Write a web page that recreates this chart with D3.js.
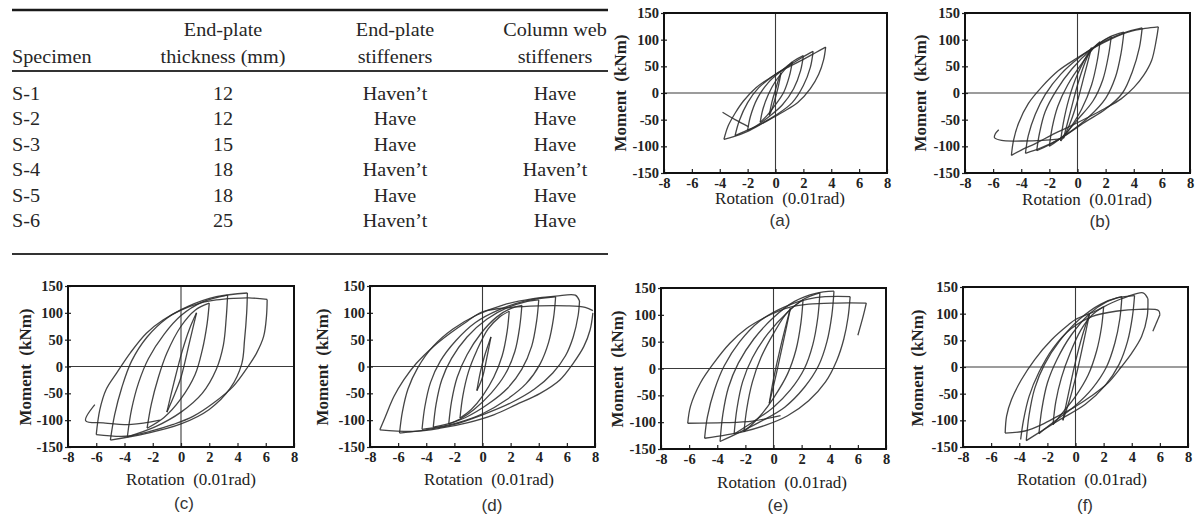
<!DOCTYPE html>
<html><head><meta charset="utf-8">
<script src="https://cdn.jsdelivr.net/npm/d3@7"></script>
<style>body{margin:0;background:#fff;} svg{display:block;}</style>
</head><body><svg id="c" width="1195" height="516"></svg>
<script>
// ---------------- table data ----------------
const headerLine1 = ["", "End-plate", "End-plate", "Column web"];
const headerLine2 = ["Specimen", "thickness (mm)", "stiffeners", "stiffeners"];
const specimens = ["S-1", "S-2", "S-3", "S-4", "S-5", "S-6"];
const endPlateThickness = ["12", "12", "15", "18", "18", "25"];
const endPlateStiffeners = ["Haven\u2019t", "Have", "Have", "Haven\u2019t", "Have", "Haven\u2019t"];
const columnWebStiffeners = ["Have", "Have", "Have", "Haven\u2019t", "Have", "Have"];

// ---------------- chart data ----------------
const xTicks = [-8, -6, -4, -2, 0, 2, 4, 6, 8];
const xTickLabels = ["-8", "-6", "-4", "-2", "0", "2", "4", "6", "8"];
const yTicks = [-150, -100, -50, 0, 50, 100, 150];
const yTickLabels = ["-150", "-100", "-50", "0", "50", "100", "150"];
const xTitle = "Rotation  (0.01rad)";
const yTitle = "Moment  (kNm)";
const captions = ["(a)", "(b)", "(c)", "(d)", "(e)", "(f)"];

// hysteresis loops, [rotation (0.01rad), moment (kNm)]
const loopsS1 = [
 [[0.4,38],[0.2,12],[0,-8],[-0.25,-30],[-0.45,-42],[-0.25,-16],[0,6],[0.2,24],[0.4,38]],
 [[1.2,58],[1.0,32],[0.6,2],[0,-22],[-0.6,-42],[-1.1,-55],[-0.9,-30],[-0.5,-2],[0,22],[0.6,42],[1.2,58]],
 [[2.0,70],[1.8,42],[1.3,8],[0.5,-22],[-0.5,-45],[-1.4,-62],[-2.0,-70],[-1.8,-44],[-1.3,-10],[-0.5,20],[0.5,43],[1.3,60],[2.0,70]],
 [[2.7,78],[2.5,48],[2.0,14],[1.2,-18],[0,-42],[-1.2,-60],[-2.2,-72],[-2.9,-80],[-2.6,-52],[-2.0,-18],[-1.2,10],[0,35],[1.2,55],[2.0,68],[2.7,78]],
 [[3.6,86],[3.45,62],[3.1,35],[2.5,8],[1.6,-18],[0.5,-36],[-0.8,-55],[-2.0,-72],[-3.0,-82],[-3.7,-87],[-3.4,-62],[-2.9,-38],[-2.3,-15],[-1.4,10],[-0.3,30],[0.8,47],[2.0,63],[2.9,76],[3.6,86]]
];
const tailS1 = [[-1.95,-63],[-2.9,-50],[-3.8,-36]];

const loopsS2 = [
 [[1.0,85],[0.5,35],[0,-15],[-0.5,-55],[-1.0,-85],[-0.5,-35],[0,15],[0.5,55],[1.0,85]],
 [[1.6,96],[1.4,60],[1.0,15],[0.3,-30],[-0.5,-65],[-1.2,-90],[-1.0,-55],[-0.6,-10],[0,35],[0.8,75],[1.6,96]],
 [[2.4,106],[2.2,70],[1.8,25],[1.1,-15],[0,-50],[-1.0,-80],[-2.0,-100],[-1.8,-65],[-1.4,-25],[-0.7,15],[0.3,55],[1.3,88],[2.4,106]],
 [[3.3,114],[3.1,75],[2.7,30],[2.0,-10],[0.8,-45],[-0.8,-78],[-2.0,-97],[-2.9,-108],[-2.7,-75],[-2.3,-35],[-1.5,5],[-0.4,45],[1.0,82],[2.2,104],[3.3,114]],
 [[4.6,122],[4.4,85],[3.9,40],[3.2,0],[2.0,-30],[0.5,-55],[-1.2,-85],[-2.6,-103],[-3.7,-113],[-3.5,-80],[-3.0,-40],[-2.3,-3],[-1.2,35],[0.2,68],[1.7,94],[3.2,112],[4.6,122]],
 [[5.75,124],[5.6,99],[5.27,61],[4.7,33],[4.0,10],[3.1,-11],[1.95,-29],[0.8,-45],[-0.65,-64],[-1.85,-79],[-3.0,-95],[-4.0,-107],[-4.7,-117],[-4.55,-89],[-4.2,-57],[-3.5,-20],[-2.55,11],[-1.35,42],[0,66],[1.25,86],[2.45,102],[3.6,114],[4.8,121],[5.75,124]]
];
const tailS2 = [[-1.2,-86],[-2.5,-89],[-4.0,-90],[-5.4,-89],[-5.9,-84],[-5.85,-77],[-5.6,-69]];

const loopsS3 = [
 [[1.1,100],[0.6,45],[0,-20],[-0.5,-55],[-1.0,-85],[-0.5,-30],[0.1,30],[0.6,70],[1.1,100]],
 [[2.0,118],[1.85,80],[1.5,30],[1.0,-15],[0,-60],[-1.2,-95],[-2.4,-115],[-2.1,-70],[-1.6,-20],[-1.0,25],[0,75],[1.0,105],[2.0,118]],
 [[3.3,133],[3.2,90],[3.0,40],[2.5,-5],[1.5,-50],[0,-85],[-1.8,-112],[-3.8,-131],[-3.5,-80],[-3.0,-30],[-2.3,15],[-1.2,60],[0,95],[1.5,120],[3.3,133]],
 [[4.7,137],[4.65,100],[4.5,50],[4.3,5],[3.5,-40],[2.0,-80],[0,-107],[-2.5,-125],[-5.0,-137],[-4.7,-90],[-4.2,-40],[-3.5,10],[-2.4,55],[-1.0,90],[0.5,112],[2.5,130],[4.7,137]],
 [[6.1,125],[6.05,93],[5.85,56],[5.35,25],[4.75,0],[3.7,-37],[2.3,-68],[0.85,-93],[-0.55,-108],[-2.2,-121],[-3.9,-130],[-6.0,-127],[-5.75,-81],[-5.3,-43],[-4.55,-12],[-3.6,25],[-2.45,62],[-1.25,87],[0,105],[1.35,118],[2.5,124],[3.7,127],[4.8,128],[6.1,125]]
];
const tailS3 = [[-1.5,-100],[-3.5,-108],[-5.5,-105],[-6.75,-101],[-6.1,-71]];

const loopsS4 = [
 [[0.6,55],[0.3,15],[0,-20],[-0.4,-45],[-0.15,-10],[0.15,20],[0.6,55]],
 [[1.9,103],[1.75,65],[1.4,20],[0.8,-20],[0,-55],[-0.8,-80],[-1.6,-96],[-1.4,-55],[-1.0,-10],[-0.4,30],[0.4,70],[1.2,92],[1.9,103]],
 [[2.8,114],[2.65,75],[2.3,28],[1.6,-15],[0.6,-50],[-0.6,-80],[-1.6,-98],[-2.4,-107],[-2.2,-65],[-1.8,-20],[-1.1,22],[-0.1,62],[1.0,92],[2.0,108],[2.8,114]],
 [[4.0,124],[3.85,85],[3.5,38],[2.8,-5],[1.8,-40],[0.4,-70],[-1.2,-95],[-2.6,-108],[-3.5,-113],[-3.3,-70],[-2.9,-25],[-2.2,15],[-1.1,55],[0.3,88],[1.8,110],[3.0,120],[4.0,124]],
 [[5.2,130],[5.05,90],[4.7,45],[4.1,5],[3.1,-32],[1.7,-62],[0,-88],[-1.8,-105],[-3.2,-113],[-4.3,-117],[-4.1,-75],[-3.7,-30],[-3.0,10],[-1.9,48],[-0.5,82],[1.2,106],[3.0,122],[5.2,130]],
 [[6.9,122],[6.8,95],[6.45,55],[5.9,20],[5.0,-12],[3.7,-42],[2.0,-68],[0,-90],[-2.0,-108],[-4.0,-118],[-5.9,-124],[-5.7,-85],[-5.3,-42],[-4.6,-2],[-3.5,38],[-2.1,70],[-0.4,96],[1.5,115],[3.5,126],[5.2,131],[6.6,133],[6.9,122]],
 [[7.85,100],[7.65,68],[7.2,37],[6.45,6],[5.5,-25],[4.1,-50],[2.4,-71],[0.8,-90],[-1.1,-105],[-3.0,-115],[-4.9,-121],[-7.3,-118],[-6.9,-93],[-6.3,-56],[-5.6,-25],[-4.7,6],[-3.5,37],[-2.3,62],[-1.1,84],[0,102],[2.0,110],[4.0,113],[6.0,113],[7.3,110],[7.85,104]]
];
const tailS4 = [];

const loopsS5 = [
 [[1.2,112],[0.7,50],[0.2,-10],[-0.3,-65],[0,-20],[0.5,40],[1.2,112]],
 [[2.1,128],[1.95,85],[1.6,35],[1.0,-10],[0,-55],[-1.0,-90],[-2.1,-118],[-1.9,-75],[-1.5,-25],[-0.9,20],[0,65],[1.0,105],[2.1,128]],
 [[3.3,141],[3.15,95],[2.8,45],[2.2,0],[1.2,-40],[0,-72],[-1.5,-100],[-2.8,-122],[-2.6,-75],[-2.2,-25],[-1.5,20],[-0.4,65],[1.0,105],[2.2,130],[3.3,141]],
 [[4.3,144],[4.15,100],[3.8,50],[3.2,5],[2.2,-35],[0.8,-72],[-1.0,-100],[-2.5,-120],[-3.8,-136],[-3.6,-85],[-3.2,-35],[-2.5,10],[-1.4,55],[0,95],[1.5,125],[3.0,140],[4.3,144]],
 [[5.45,134],[5.3,95],[5.0,55],[4.5,15],[3.7,-25],[2.5,-60],[1.0,-88],[-0.6,-106],[-2.2,-118],[-4.9,-130],[-4.7,-90],[-4.2,-40],[-3.5,5],[-2.4,50],[-1.0,88],[0.8,115],[3.0,132],[5.45,134]],
 [[0.5,-88],[-1.5,-98],[-3.5,-101],[-6.1,-102],[-5.9,-70],[-5.2,-27],[-4.25,10],[-3.1,47],[-1.9,75],[-0.7,94],[0,103],[1.0,113],[2.5,120],[4.5,122],[6.6,122],[6.4,100],[6.0,62]]
];
const tailS5 = [];

const loopsS6 = [
 [[1.0,100],[0.6,50],[0.1,-10],[-0.4,-60],[-0.9,-100],[-0.5,-50],[0,10],[0.5,60],[1.0,100]],
 [[2.0,113],[1.85,75],[1.5,30],[0.9,-15],[0,-55],[-0.9,-85],[-1.6,-108],[-1.4,-65],[-1.0,-20],[-0.4,25],[0.4,70],[1.2,98],[2.0,113]],
 [[3.3,132],[3.15,90],[2.8,45],[2.2,0],[1.2,-40],[0,-72],[-1.4,-100],[-2.6,-125],[-2.4,-80],[-2.0,-30],[-1.3,15],[-0.3,60],[1.0,100],[2.2,122],[3.3,132]],
 [[4.2,134],[4.05,95],[3.7,48],[3.1,5],[2.1,-35],[0.7,-70],[-1.2,-100],[-2.3,-118],[-3.5,-138],[-3.3,-90],[-2.9,-40],[-2.2,5],[-1.1,50],[0.3,90],[1.8,118],[3.0,130],[4.2,134]],
 [[5.15,128],[5.1,95],[4.7,57],[4.0,26],[3.25,0],[2.3,-30],[1.1,-55],[0,-74],[-1.25,-92],[-2.4,-108],[-3.6,-120],[-5.0,-124],[-4.9,-92],[-4.55,-61],[-3.85,-24],[-2.9,14],[-1.7,51],[-0.5,79],[0,89],[1.35,104],[2.55,120],[3.7,132],[4.8,139],[5.15,128]],
 [[-3.9,-136],[-3.7,-100],[-3.3,-55],[-2.6,-10],[-1.6,35],[-0.3,72],[1.2,95],[3.0,105],[4.5,108],[5.9,106],[6.0,98],[5.5,67]]
];
const tailS6 = [];

const panelLoops = [loopsS1, loopsS2, loopsS3, loopsS4, loopsS5, loopsS6];
const panelTails = [tailS1, tailS2, tailS3, tailS4, tailS5, tailS6];

// ---------------- layout ----------------
const layout = [
 {box:[664,13,887,173], xl:[780,204], cap:[780,226], yl:[620,93]},
 {box:[965,13,1190,173], xl:[1087,205], cap:[1100,227], yl:[920,93]},
 {box:[68,286,294,447], xl:[191,485], cap:[184,509], yl:[25,367]},
 {box:[370,286,595,447], xl:[489,485], cap:[492,511], yl:[322,367]},
 {box:[661,288,886,449], xl:[782,488], cap:[778,511], yl:[617,369]},
 {box:[963,287,1188,447], xl:[1082,485], cap:[1085,511], yl:[917,368]}
];

const SERIF = "Liberation Serif";
const SANS = "Liberation Sans";
const svg = d3.select("#c");

// ---------------- table ----------------
const tbl = svg.append("g");
const colX = [12, 223, 395, 555];
const colAnchor = ["start", "middle", "middle", "middle"];
const rowY = d3.scaleLinear().domain([0, specimens.length - 1]).range([100, 227]);
function ttext(x, y, s, anchor) {
  tbl.append("text")
    .attr("transform", `translate(${x},${y}) scale(1.12,1)`)
    .attr("text-anchor", anchor)
    .style("font-family", SERIF).style("font-size", "18px")
    .attr("fill", "#262626").text(s);
}
tbl.append("line").attr("x1", 12).attr("x2", 608).attr("y1", 10).attr("y2", 10).attr("stroke", "#1a1a1a").attr("stroke-width", 2.6);
tbl.append("line").attr("x1", 12).attr("x2", 608).attr("y1", 71).attr("y2", 71).attr("stroke", "#333").attr("stroke-width", 2);
tbl.append("line").attr("x1", 12).attr("x2", 608).attr("y1", 254).attr("y2", 254).attr("stroke", "#333").attr("stroke-width", 2);
headerLine1.forEach((s, i) => { if (s) ttext(colX[i], 36, s, colAnchor[i]); });
headerLine2.forEach((s, i) => ttext(colX[i], 63, s, colAnchor[i]));
const cols = [specimens, endPlateThickness, endPlateStiffeners, columnWebStiffeners];
cols.forEach((col, ci) => col.forEach((s, ri) => ttext(colX[ci], rowY(ri), s, colAnchor[ci])));

// ---------------- panels ----------------
function splitAtTips(pts) {
  let iMin = 0, iMax = 0;
  pts.forEach((p, i) => { if (p[0] < pts[iMin][0]) iMin = i; if (p[0] > pts[iMax][0]) iMax = i; });
  const cuts = Array.from(new Set([0, iMin, iMax, pts.length - 1])).sort((a, b) => a - b);
  const segs = [];
  for (let k = 0; k < cuts.length - 1; k++) {
    if (cuts[k + 1] > cuts[k]) segs.push(pts.slice(cuts[k], cuts[k + 1] + 1));
  }
  return segs;
}

layout.forEach((L, pi) => {
  const [x0, y0, x1, y1] = L.box;
  const x = d3.scaleLinear().domain([-8, 8]).range([x0, x1]);
  const y = d3.scaleLinear().domain([-150, 150]).range([y1, y0]);
  const g = svg.append("g");

  // zero lines
  g.append("line").attr("x1", x(0)).attr("x2", x(0)).attr("y1", y0).attr("y2", y1).attr("stroke", "#3a3a3a").attr("stroke-width", 1.1);
  g.append("line").attr("x1", x0).attr("x2", x1).attr("y1", y(0)).attr("y2", y(0)).attr("stroke", "#3a3a3a").attr("stroke-width", 1.1);

  // axes (labelled ticks, plus short inner tick marks)
  const xa = g.append("g").attr("transform", `translate(0,${y1})`)
    .call(d3.axisBottom(x).tickValues(xTicks).tickFormat((d, i) => xTickLabels[i]).tickSizeInner(-4).tickSizeOuter(0).tickPadding(5));
  const ya = g.append("g").attr("transform", `translate(${x0},0)`)
    .call(d3.axisLeft(y).tickValues(yTicks).tickFormat((d, i) => yTickLabels[i]).tickSizeInner(3).tickSizeOuter(0).tickPadding(2));
  const yi = g.append("g").attr("transform", `translate(${x0},0)`)
    .call(d3.axisLeft(y).tickValues(yTicks).tickFormat("").tickSizeInner(-3).tickSizeOuter(0));
  [xa, ya, yi].forEach(a => {
    a.attr("font-family", null).attr("font-size", null);
    a.select(".domain").remove();
    a.selectAll("line").attr("stroke", "#222").attr("stroke-width", 1.2);
    a.selectAll("text").style("font-family", SERIF).style("font-size", "14.5px").style("font-weight", "bold").attr("fill", "#222");
  });

  // curves
  const line = d3.line().x(d => x(d[0])).y(d => y(d[1])).curve(d3.curveCatmullRom.alpha(0.5));
  const cg = g.append("g").attr("fill", "none").attr("stroke", "#2b2b2b").attr("stroke-width", 1.3).attr("stroke-opacity", 0.88).attr("stroke-linejoin", "round");
  panelLoops[pi].forEach(loop => splitAtTips(loop).forEach(seg => cg.append("path").attr("d", line(seg))));
  if (panelTails[pi].length) cg.append("path").attr("d", line(panelTails[pi]));

  // frame
  g.append("rect").attr("x", x0).attr("y", y0).attr("width", x1 - x0).attr("height", y1 - y0)
    .attr("fill", "none").attr("stroke", "#111").attr("stroke-width", 2);

  // titles
  g.append("text").attr("x", L.xl[0]).attr("y", L.xl[1]).attr("text-anchor", "middle")
    .style("font-family", SERIF).style("font-size", "17px").attr("fill", "#222").style("white-space", "pre").text(xTitle);
  g.append("text").attr("transform", `translate(${L.yl[0]},${L.yl[1]}) rotate(-90)`).attr("text-anchor", "middle")
    .attr("dominant-baseline", "central")
    .style("font-family", SERIF).style("font-size", "17px").style("font-weight", "bold").attr("fill", "#222").style("white-space", "pre").text(yTitle);
  g.append("text").attr("x", L.cap[0]).attr("y", L.cap[1]).attr("text-anchor", "middle")
    .style("font-family", SANS).style("font-size", "17px").attr("fill", "#333").text(captions[pi]);
});
</script>
</body></html>
